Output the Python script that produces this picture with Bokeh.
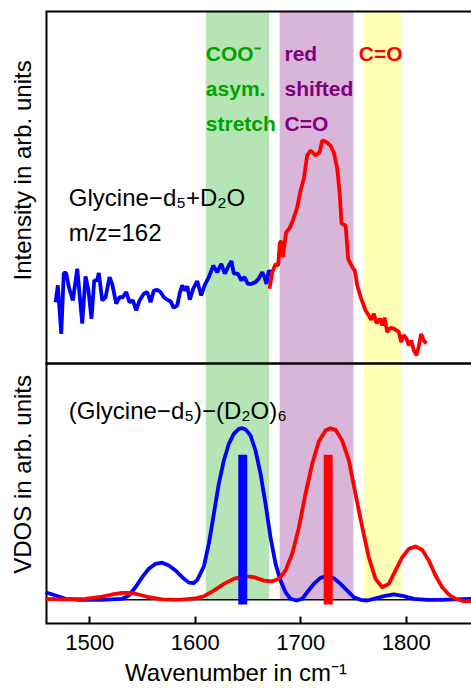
from math import pi
from bokeh.plotting import figure
from bokeh.models import Range1d, LinearAxis, FixedTicker, Label
from bokeh.embed import file_html
from bokeh.resources import INLINE

FONT = "Liberation Sans"

# ---------------- data ----------------
# experimental spectrum (top panel), blue part
top_blue_wn = [1467.5, 1469.7, 1472.9, 1475.3, 1477.6, 1480.1, 1483.9, 1488.1, 1492.8, 1495.9,
               1498.5, 1501.6, 1504.2, 1507.0, 1508.5, 1511.8, 1514.9, 1518.7, 1521.2, 1525.0,
               1528.2, 1531.3, 1534.5, 1537.6, 1540.8, 1544.0, 1547.1, 1551.2, 1554.4, 1557.6,
               1560.7, 1563.9, 1567.0, 1570.2, 1573.4, 1576.5, 1579.6, 1582.9, 1585.3, 1587.6,
               1589.8, 1592.4, 1594.8, 1598.0, 1601.8, 1605.6, 1608.8, 1612.8, 1617.0, 1620.8,
               1624.6, 1628.0, 1631.8, 1634.4, 1636.5, 1640.3, 1643.6, 1646.7, 1649.8, 1653.0,
               1657.1, 1660.2, 1663.5, 1665.7, 1667.5, 1669.7, 1671.3]
top_blue_int = [17.4, 22.2, 8.4, 25.7, 25.7, 21.7, 17.9, 26.9, 11.3, 24.7,
                21.2, 12.7, 23.6, 23.6, 25.7, 17.9, 18.8, 24.5, 22.6, 17.0,
                18.8, 18.8, 20.3, 17.4, 17.9, 15.1, 17.9, 19.8, 20.3, 17.4,
                20.7, 20.9, 20.3, 18.8, 18.1, 17.7, 15.8, 16.5, 20.0, 22.2,
                20.7, 21.9, 18.1, 21.2, 23.4, 19.3, 22.2, 24.5, 27.8, 25.9,
                28.3, 25.5, 27.8, 29.1, 25.5, 25.5, 23.6, 24.5, 22.6, 22.6,
                23.1, 24.1, 25.9, 24.5, 22.6, 26.4, 25.9]

# experimental spectrum (top panel), red part
top_red_wn = [1670.4, 1672.9, 1676.1, 1678.6, 1680.2, 1681.8, 1683.0, 1684.9, 1686.2, 1689.4,
              1692.5, 1696.7, 1699.8, 1702.9, 1706.1, 1709.3, 1714.0, 1717.8, 1720.4, 1724.2,
              1728.2, 1731.4, 1734.6, 1736.8, 1738.7, 1742.5, 1745.0, 1748.8, 1751.3, 1753.5,
              1757.3, 1761.4, 1764.5, 1766.8, 1769.3, 1771.9, 1775.0, 1777.3, 1779.4, 1782.0,
              1785.1, 1788.3, 1790.8, 1793.0, 1795.3, 1797.7, 1800.3, 1802.5, 1804.8, 1807.2,
              1809.8, 1812.0, 1814.2, 1816.7, 1819.0]
top_red_int = [21.2, 25.9, 28.3, 27.8, 34.5, 34.5, 30.2, 34.5, 37.3, 38.4,
               40.6, 44.4, 49.1, 52.5, 59.1, 60.5, 59.1, 60.0, 63.4, 62.9,
               61.9, 60.0, 55.3, 48.7, 39.7, 39.2, 29.7, 27.4, 26.4, 22.2,
               18.4, 15.1, 13.6, 12.4, 14.1, 11.4, 12.7, 10.8, 13.0, 8.9,
               10.1, 9.9, 9.4, 8.9, 6.1, 8.0, 7.0, 5.1, 6.5, 3.7,
               2.3, 5.1, 8.4, 6.5, 5.6]

# computed VDOS (bottom panel)
vdos_blue_wn = [1458.0, 1467.5, 1477.0, 1489.6, 1510.1, 1530.7, 1537.0, 1543.3, 1549.7, 1555.9,
                1562.3, 1568.6, 1574.9, 1581.3, 1587.6, 1593.9, 1598.6, 1601.8, 1608.1, 1612.8,
                1617.6, 1622.3, 1627.1, 1631.8, 1636.5, 1641.3, 1644.5, 1647.6, 1652.4, 1657.1,
                1661.9, 1666.6, 1671.3, 1676.1, 1680.8, 1685.6, 1690.3, 1696.0, 1701.4, 1706.1,
                1712.4, 1718.7, 1725.1, 1731.4, 1737.7, 1744.1, 1750.3, 1756.7, 1763.0, 1769.3,
                1778.8, 1788.3, 1797.7, 1807.2, 1819.9, 1832.5, 1845.1, 1861.9]
vdos_blue = [4.4, 2.5, 0.6, 0.0, 0.0, 0.6, 2.5, 7.3, 13.2, 18.1,
             21.0, 21.6, 20.0, 17.1, 13.2, 10.0, 9.8, 11.5, 19.4, 32.6,
             50.1, 67.6, 81.2, 90.9, 96.7, 99.6, 100.0, 99.3, 95.7, 87.0,
             73.4, 55.9, 36.5, 21.0, 11.2, 4.4, 0.6, -0.4, 0.6, 4.4,
             9.3, 12.8, 13.8, 12.6, 9.3, 5.4, 1.5, 0.0, -0.4, 0.6,
             2.1, 3.1, 2.1, 0.6, 0.0, 0.0, 0.3, 0.6]

vdos_red_wn = [1458.0, 1477.0, 1495.9, 1511.8, 1521.2, 1530.7, 1538.6, 1546.5, 1555.9, 1568.6,
               1584.4, 1600.2, 1608.1, 1617.6, 1627.1, 1636.5, 1646.0, 1655.5, 1665.0, 1672.9,
               1679.2, 1685.6, 1691.9, 1698.2, 1704.5, 1710.9, 1717.1, 1723.5, 1728.2, 1733.0,
               1739.3, 1745.6, 1751.9, 1758.3, 1764.5, 1770.9, 1777.3, 1783.5, 1789.9, 1796.2,
               1802.5, 1808.8, 1815.2, 1821.4, 1827.8, 1834.1, 1840.4, 1846.8, 1854.6, 1861.9]
vdos_red = [0.6, 0.2, 0.6, 1.9, 3.1, 4.1, 4.1, 3.1, 1.5, 0.2,
            0.0, 0.8, 2.0, 5.4, 9.3, 12.2, 13.8, 13.2, 11.2, 10.8,
            12.2, 17.1, 26.8, 42.0, 61.8, 79.3, 92.2, 98.7, 100.0, 99.1,
            92.8, 81.2, 61.8, 42.3, 24.8, 12.2, 7.3, 9.3, 17.1, 24.8,
            29.7, 31.1, 29.1, 22.9, 14.2, 7.3, 3.1, 0.6, -0.8, -0.8]

# stick spectrum
stick_wn = [1645.0, 1726.0]
stick_top = [84.6, 84.6]
stick_colors = ["#0000ff", "#ff0000"]

# highlighted bands
band_left = [1610.0, 1680.0, 1760.0]
band_right = [1670.0, 1750.0, 1795.0]
band_colors = ["#b5e5b5", "#d9b5d9", "#ffffb5"]

x_ticks = [1500, 1600, 1700, 1800]

# ---------------- figure ----------------
X0, X1 = 1458.0, 1861.9          # plotted wavenumber window (frame box)
Y0, Y1 = -13.8, 342.8            # VDOS scale over the whole frame height
p = figure(width=471, height=689, output_backend="svg", toolbar_location=None,
           x_range=Range1d(1415.3, X1), y_range=Range1d(Y0, Y1),
           min_border_left=0, min_border_right=0, min_border_top=11, min_border_bottom=66)
p.extra_y_ranges = {"top": Range1d(-73.9, 100.0)}
p.outline_line_color = None
p.grid.visible = False
p.yaxis.visible = False

# bottom axis
xa = p.xaxis[0]
xa.bounds = (X0, X1)
xa.ticker = FixedTicker(ticks=x_ticks)
xa.major_tick_in = 7
xa.major_tick_out = 0
xa.minor_tick_line_color = None
xa.major_tick_line_width = 2
xa.major_tick_line_color = "black"
xa.axis_line_width = 2
xa.axis_line_color = "black"
xa.major_label_standoff = 11
xa.major_label_text_font = FONT
xa.major_label_text_font_size = "22px"
xa.major_label_text_color = "black"
xa.axis_label = "Wavenumber in cm\u207b\u00b9"
xa.axis_label_text_font = FONT
xa.axis_label_text_font_size = "24px"
xa.axis_label_text_font_style = "normal"
xa.axis_label_text_color = "black"
xa.axis_label_standoff = 6

# top frame line
top_axis = LinearAxis(ticker=FixedTicker(ticks=[]), major_tick_in=0, major_tick_out=0,
                      minor_tick_line_color=None, major_label_standoff=0, bounds=(X0, X1),
                      axis_line_width=2, axis_line_color="black")
p.add_layout(top_axis, "above")

# bands (from the VDOS baseline up to the top of the plot)
p.quad(left=band_left, right=band_right, bottom=0.0, top=Y1,
       fill_color=band_colors, line_color=None)

# left frame line, VDOS baseline and panel divider
p.segment(x0=[X0 + 0.9], y0=[Y0], x1=[X0 + 0.9], y1=[Y1], line_color="black", line_width=2)
p.segment(x0=[X0], y0=[0.0], x1=[X1], y1=[0.0], line_color="black", line_width=1.5)
p.segment(x0=[X0], y0=[0.0], x1=[X1], y1=[0.0], y_range_name="top",
          line_color="black", line_width=2.5)

# top panel: experiment
p.line(top_blue_wn, top_blue_int, y_range_name="top", line_color="#0000ff", line_width=3.8)
p.line(top_red_wn, top_red_int, y_range_name="top", line_color="#ff0000", line_width=3.8)

# bottom panel: VDOS
p.line(vdos_blue_wn, vdos_blue, line_color="#0000ff", line_width=3.8, line_join="round")
p.line(vdos_red_wn, vdos_red, line_color="#ff0000", line_width=3.8, line_join="round")
p.vbar(x=stick_wn, width=8.5, top=stick_top, bottom=-2.7, fill_color=stick_colors,
       line_color=None)


def add_label(text, x, y, color="black", size="24px", style="normal", rng="default",
              angle=0.0, align="left", baseline="alphabetic"):
    p.add_layout(Label(x=x, y=y, text=text, text_color=color, text_font=FONT,
                       text_font_size=size, text_font_style=style, y_range_name=rng,
                       angle=angle, text_align=align, text_baseline=baseline))


green = "#00a300"
purple = "#800080"
add_label("COO\u207b", 1610.0, 88.0, green, "21px", "bold", "top")
add_label("asym.", 1610.0, 78.0, green, "21px", "bold", "top")
add_label("stretch", 1610.0, 68.1, green, "21px", "bold", "top")
add_label("red", 1684.6, 88.0, purple, "21px", "bold", "top")
add_label("shifted", 1684.6, 78.0, purple, "21px", "bold", "top")
add_label("C=O", 1684.6, 68.1, purple, "21px", "bold", "top")
add_label("C=O", 1755.1, 88.0, "#ff0000", "21px", "bold", "top")

add_label("Glycine\u2212d\u2085+D\u2082O", 1480.1, 47.1, rng="top")
add_label("m/z=162", 1480.1, 37.3, rng="top")
add_label("(Glycine\u2212d\u2085)\u2212(D\u2082O)\u2086", 1480.1, 110.3)

# y titles of the two panels
add_label("Intensity in arb. units", 1436.0, 250.2, angle=pi / 2, align="center")
add_label("VDOS in arb. units", 1436.0, 73.1, angle=pi / 2, align="center")

open("out.html", "w").write(file_html(p, INLINE))
